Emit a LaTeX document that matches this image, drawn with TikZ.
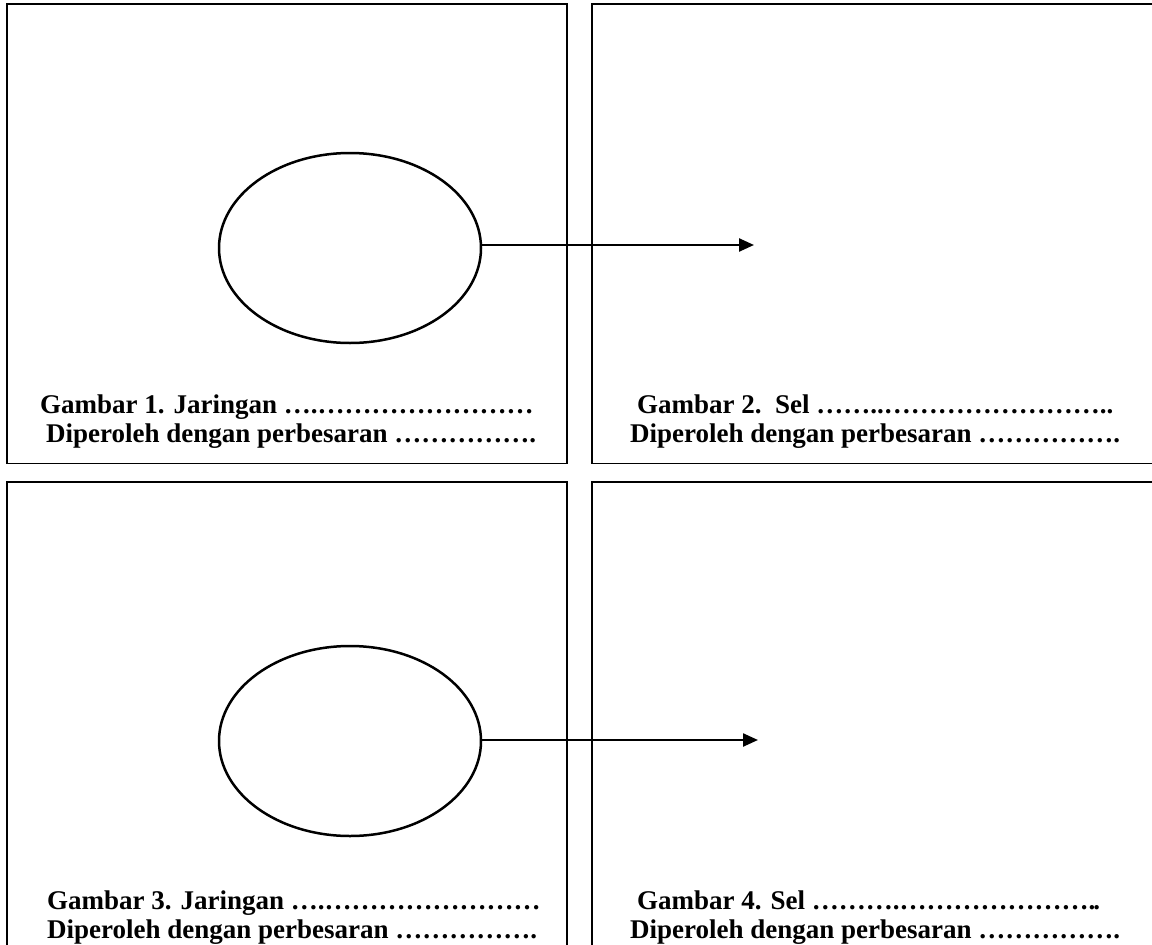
\documentclass[tikz,border=0pt]{standalone}
\usepackage{fontspec}
\setmainfont{Liberation Serif}
\usetikzlibrary{shapes.geometric,arrows.meta}
\newcommand\elp{…}
\begin{document}
\begin{tikzpicture}[x=1pt,y=-1pt,
  panel/.style={draw=black,line width=1.6pt},
  cellshape/.style={draw=black,line width=2.5pt,ellipse,minimum width=262pt,minimum height=190pt,inner sep=0pt},
  arr/.style={line width=2.4pt,-{Triangle[length=15pt,width=13pt]}},
  captext/.style={anchor=base west,inner sep=0pt,font=\fontsize{27}{29}\selectfont\bfseries}]
\useasboundingbox (0,0) rectangle (1152,945);
\clip (0,0) rectangle (1152,945);
\draw[panel] (7,4) rectangle (567,463.5);
\draw[panel] (592,4) rectangle (1160,463.5);
\draw[panel] (7,482) rectangle (567,960);
\draw[panel] (592,482) rectangle (1160,960);
\node[cellshape] (e1) at (350,248) {};
\node[cellshape] (e2) at (350,741) {};
\coordinate (t1) at (754,245);
\coordinate (t2) at (758,740);
\draw[arr] (e1.east |- t1) -- (t1);
\draw[arr] (e2.east |- t2) -- (t2);
\node[captext] (g1) at (40,413) {Gambar 1. Jaringan \elp.\elp\elp\elp\elp\elp\elp\elp\elp};
\node[captext] (d1) at (46,442) {Diperoleh dengan perbesaran \elp\elp\elp\elp\elp.};
\node[captext] (g2) at (637,413) {Gambar 2.\ \ Sel \elp\elp..\elp\elp\elp\elp\elp\elp\elp\elp..};
\node[captext] (d2) at (630,442) {Diperoleh dengan perbesaran \elp\elp\elp\elp\elp.};
\node[captext] (g3) at (47,909) {Gambar 3. Jaringan \elp.\elp\elp\elp\elp\elp\elp\elp\elp};
\node[captext] (d3) at (47,938) {Diperoleh dengan perbesaran \elp\elp\elp\elp\elp.};
\node[captext] (g4) at (637,909) {Gambar 4. Sel \elp\elp\elp.\elp\elp\elp\elp\elp\elp\elp.\kern-2pt.};
\node[captext] (d4) at (630,938) {Diperoleh dengan perbesaran \elp\elp\elp\elp\elp.};
\end{tikzpicture}
\end{document}
